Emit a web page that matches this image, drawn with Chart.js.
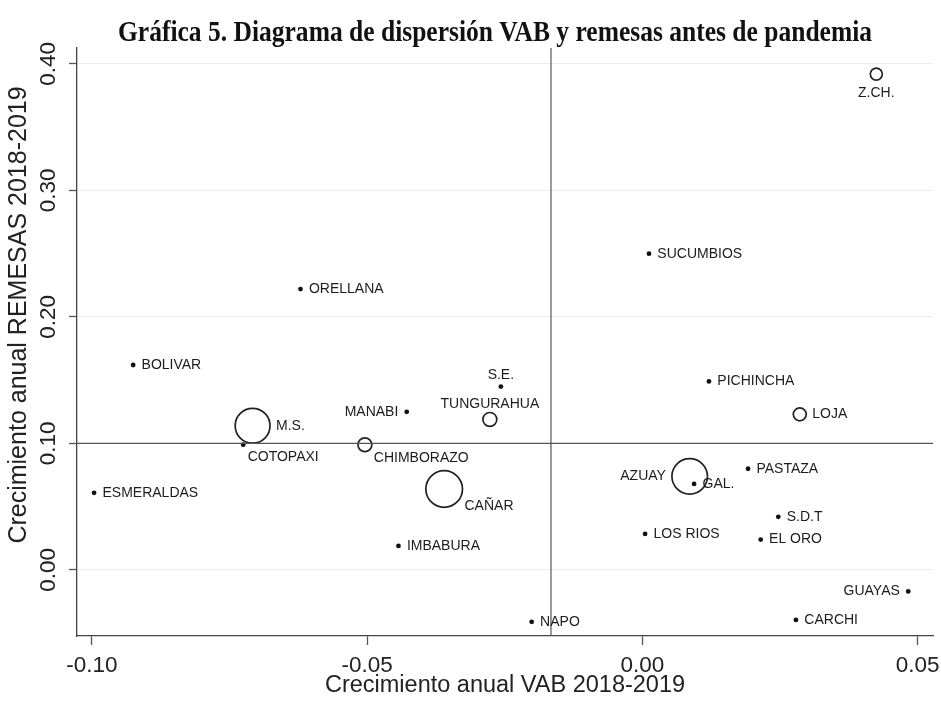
<!DOCTYPE html>
<html>
<head>
<meta charset="utf-8">
<script src="https://cdn.jsdelivr.net/npm/chart.js@4.4.0/dist/chart.umd.min.js"></script>
<style>
  html, body { margin: 0; padding: 0; background: #fff; }
  canvas { display: block; }
</style>
</head>
<body>
<canvas id="dispersionChart" width="941" height="702"></canvas>
<script>
// Datos
const provincias = ['Z.CH.', 'SUCUMBIOS', 'ORELLANA', 'BOLIVAR', 'PICHINCHA', 'S.E.', 'MANABI', 'TUNGURAHUA',
  'M.S.', 'COTOPAXI', 'CHIMBORAZO', 'LOJA', 'ESMERALDAS', 'CAÑAR', 'AZUAY', 'GAL.', 'PASTAZA', 'S.D.T',
  'LOS RIOS', 'EL ORO', 'IMBABURA', 'GUAYAS', 'NAPO', 'CARCHI'];
const crecimientoVAB = [0.0425, 0.0012, -0.0621, -0.0925, 0.0121, -0.0257, -0.0428, -0.0277,
  -0.0708, -0.0725, -0.0504, 0.0286, -0.0996, -0.0360, 0.0086, 0.0094, 0.0192, 0.0247,
  0.0005, 0.0215, -0.0443, 0.0483, -0.0201, 0.0279];
const crecimientoRemesas = [0.392, 0.250, 0.222, 0.162, 0.149, 0.145, 0.125, 0.119,
  0.114, 0.099, 0.099, 0.123, 0.061, 0.064, 0.074, 0.068, 0.080, 0.042,
  0.0285, 0.024, 0.019, -0.017, -0.041, -0.0395];
// peso relativo del marcador (0 = punto simple)
const pesos = [9, 0, 0, 0, 0, 0, 0, 12,
  76, 0, 12, 10.5, 0, 84, 79, 0, 0, 0,
  0, 0, 0, 0, 0, 0];

const ticksVAB = [-0.10, -0.05, 0.00, 0.05];
const ticksRemesas = [0.00, 0.10, 0.20, 0.30, 0.40];
const lineaVAB = -0.0166;     // linea vertical de referencia
const lineaRemesas = 0.10;    // linea horizontal de referencia
const rangoX = [-0.1027, 0.0528];
const rangoY = [-0.0522, 0.4126];

// posicion de cada etiqueta (por defecto a la derecha)
const posEtiquetas = {
  'Z.CH.': 'abajo', 'S.E.': 'arriba', 'TUNGURAHUA': 'arriba',
  'MANABI': 'izq', 'AZUAY': 'izq', 'GUAYAS': 'izq',
  'COTOPAXI': 'abajoDer', 'CHIMBORAZO': 'abajoDer', 'CAÑAR': 'abajoDer'
};

const fuente = '"Liberation Sans", Arial, Helvetica, sans-serif';

const puntos = provincias.map((p, i) => ({ x: crecimientoVAB[i], y: crecimientoRemesas[i], peso: pesos[i] }));

const etiquetasPlugin = {
  id: 'etiquetas',
  afterDatasetsDraw(chart) {
    const meta = chart.getDatasetMeta(2);
    const ctx = chart.ctx;
    ctx.save();
    ctx.font = '14px ' + fuente;
    ctx.fillStyle = '#1c1c1c';
    ctx.textBaseline = 'middle';
    meta.data.forEach((pt, i) => {
      const r = pt.options.radius;
      const nombre = provincias[i];
      const pos = posEtiquetas[nombre] || 'der';
      let x = pt.x, y = pt.y;
      if (pos === 'der') { ctx.textAlign = 'left'; x += r + 6; }
      else if (pos === 'izq') { ctx.textAlign = 'right'; x -= r + 6; }
      else if (pos === 'arriba') { ctx.textAlign = 'center'; y -= r + 8.5; }
      else if (pos === 'abajo') { ctx.textAlign = 'center'; y += r + 13; }
      else { ctx.textAlign = 'left'; x += r + 2; y += 11.5 + r * 0.33; }
      ctx.fillText(nombre, x, y);
    });
    ctx.restore();
  }
};

// titulo general y titulo del eje Y, colocados como en el original
const titulosPlugin = {
  id: 'titulos',
  afterDraw(chart) {
    const ctx = chart.ctx;
    ctx.save();
    ctx.fillStyle = '#111';
    ctx.textAlign = 'center';
    ctx.textBaseline = 'alphabetic';
    ctx.font = 'bold 29px "Liberation Serif", "Times New Roman", serif';
    ctx.translate(495, 41);
    ctx.scale(0.88, 1);
    ctx.fillText('Gráfica 5. Diagrama de dispersión VAB y remesas antes de pandemia', 0, 0);
    ctx.restore();

    ctx.save();
    ctx.translate(19, 315);
    ctx.rotate(-Math.PI / 2);
    ctx.font = '25px ' + fuente;
    ctx.fillStyle = '#222';
    ctx.textAlign = 'center';
    ctx.textBaseline = 'middle';
    ctx.fillText('Crecimiento anual REMESAS 2018-2019', 0, 0);
    ctx.restore();
  }
};

const ctx = document.getElementById('dispersionChart').getContext('2d');

const grafica = new Chart(ctx, {
  type: 'scatter',
  data: {
    datasets: [
      {
        type: 'line',
        data: [{ x: lineaVAB, y: rangoY[0] }, { x: lineaVAB, y: rangoY[1] }],
        borderColor: '#555',
        borderWidth: 1.2,
        pointRadius: 0
      },
      {
        type: 'line',
        data: [{ x: rangoX[0], y: lineaRemesas }, { x: rangoX[1], y: lineaRemesas }],
        borderColor: '#555',
        borderWidth: 1.2,
        pointRadius: 0
      },
      {
        data: puntos,
        pointRadius: c => c.raw.peso ? 2 * Math.sqrt(c.raw.peso) : 2.4,
        pointBackgroundColor: c => c.raw.peso ? 'rgba(0,0,0,0)' : '#111',
        pointBorderColor: '#222',
        pointBorderWidth: c => c.raw.peso ? 1.7 : 0
      }
    ]
  },
  options: {
    responsive: false,
    animation: false,
    events: [],
    layout: { autoPadding: false, padding: { left: 0, right: 8, top: 48, bottom: 0 } },
    plugins: {
      legend: { display: false },
      tooltip: { enabled: false },
      title: { display: false }
    },
    scales: {
      x: {
        type: 'linear',
        min: rangoX[0],
        max: rangoX[1],
        afterBuildTicks: s => { s.ticks = ticksVAB.map(v => ({ value: v })); },
        afterFit: s => { s.height = 66; s.paddingLeft = 0; s.paddingRight = 0; },
        ticks: {
          color: '#222',
          font: { family: fuente, size: 22.5 },
          padding: 7,
          maxRotation: 0,
          autoSkip: false,
          callback: v => v.toFixed(2)
        },
        grid: { drawOnChartArea: false, drawTicks: true, tickLength: 9, tickColor: '#555', tickWidth: 1.3 },
        border: { color: '#444', width: 1.3 },
        title: {
          display: true,
          text: 'Crecimiento anual VAB 2018-2019',
          color: '#222',
          font: { family: fuente, size: 23.5 },
          padding: { top: 0, bottom: 2 }
        }
      },
      y: {
        type: 'linear',
        min: rangoY[0],
        max: rangoY[1],
        afterBuildTicks: s => { s.ticks = ticksRemesas.map(v => ({ value: v })); },
        afterFit: s => { s.width = 77; s.paddingTop = 0; s.paddingBottom = 0; },
        ticks: {
          color: '#222',
          font: { family: fuente, size: 22.5 },
          minRotation: 90,
          maxRotation: 90,
          crossAlign: 'center',
          padding: -2,
          autoSkip: false,
          callback: v => v.toFixed(2)
        },
        grid: { color: '#ececec', lineWidth: 1, drawTicks: true, tickLength: 8, tickColor: '#555', tickWidth: 1.3 },
        border: { color: '#444', width: 1.3 }
      }
    }
  },
  plugins: [etiquetasPlugin, titulosPlugin]
});
</script>
</body>
</html>
